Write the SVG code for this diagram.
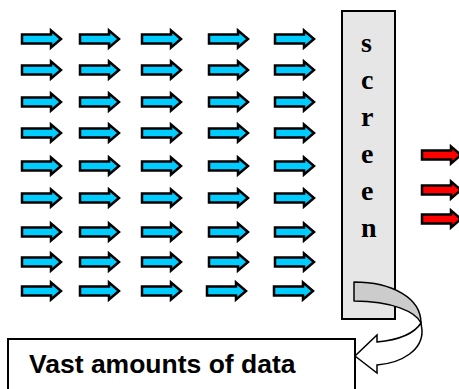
<svg xmlns="http://www.w3.org/2000/svg" xmlns:xlink="http://www.w3.org/1999/xlink" width="459" height="389" viewBox="0 0 459 389">
<style>
.blue{fill:#00CCFF;stroke:#000;stroke-width:2.5;stroke-linejoin:miter}
.red{fill:#FF0000;stroke:#000;stroke-width:2.5;stroke-linejoin:miter}
.scr{font-family:"Liberation Serif","Times New Roman",serif;font-weight:bold;font-size:28px;fill:#000}
.lbl{font-family:"Liberation Sans",Arial,sans-serif;font-weight:bold;font-size:26.5px;fill:#000}
</style>
<defs>
<polygon id="arr" points="0,-4.5 29,-4.5 29,-8.5 39,0 29,8.5 29,4.5 0,4.5"/>
</defs>
<rect width="459" height="389" fill="#fff"/>
<g id="data-arrows">
<g transform="translate(0,39)"><use xlink:href="#arr" class="blue" x="22"/><use xlink:href="#arr" class="blue" x="80"/><use xlink:href="#arr" class="blue" x="142"/><use xlink:href="#arr" class="blue" x="209"/><use xlink:href="#arr" class="blue" x="275"/></g>
<g transform="translate(0,70)"><use xlink:href="#arr" class="blue" x="22"/><use xlink:href="#arr" class="blue" x="80"/><use xlink:href="#arr" class="blue" x="142"/><use xlink:href="#arr" class="blue" x="209"/><use xlink:href="#arr" class="blue" x="275"/></g>
<g transform="translate(0,102)"><use xlink:href="#arr" class="blue" x="22"/><use xlink:href="#arr" class="blue" x="80"/><use xlink:href="#arr" class="blue" x="142"/><use xlink:href="#arr" class="blue" x="209"/><use xlink:href="#arr" class="blue" x="275"/></g>
<g transform="translate(0,133)"><use xlink:href="#arr" class="blue" x="22"/><use xlink:href="#arr" class="blue" x="80"/><use xlink:href="#arr" class="blue" x="142"/><use xlink:href="#arr" class="blue" x="209"/><use xlink:href="#arr" class="blue" x="275"/></g>
<g transform="translate(0,166)"><use xlink:href="#arr" class="blue" x="22"/><use xlink:href="#arr" class="blue" x="80"/><use xlink:href="#arr" class="blue" x="142"/><use xlink:href="#arr" class="blue" x="209"/><use xlink:href="#arr" class="blue" x="275"/></g>
<g transform="translate(0,198)"><use xlink:href="#arr" class="blue" x="22"/><use xlink:href="#arr" class="blue" x="80"/><use xlink:href="#arr" class="blue" x="142"/><use xlink:href="#arr" class="blue" x="209"/><use xlink:href="#arr" class="blue" x="275"/></g>
<g transform="translate(0,232)"><use xlink:href="#arr" class="blue" x="22"/><use xlink:href="#arr" class="blue" x="80"/><use xlink:href="#arr" class="blue" x="142"/><use xlink:href="#arr" class="blue" x="209"/><use xlink:href="#arr" class="blue" x="275"/></g>
<g transform="translate(0,262)"><use xlink:href="#arr" class="blue" x="22"/><use xlink:href="#arr" class="blue" x="80"/><use xlink:href="#arr" class="blue" x="142"/><use xlink:href="#arr" class="blue" x="209"/><use xlink:href="#arr" class="blue" x="275"/></g>
<g transform="translate(0,291)"><use xlink:href="#arr" class="blue" x="22"/><use xlink:href="#arr" class="blue" x="80"/><use xlink:href="#arr" class="blue" x="142"/><use xlink:href="#arr" class="blue" x="207"/><use xlink:href="#arr" class="blue" x="274"/></g>
</g>
<g id="screen">
<rect x="342" y="11" width="53" height="308" fill="#E6E6E6" stroke="#000" stroke-width="2"/>
<text class="scr" x="361" y="52">s</text>
<text class="scr" x="361" y="89">c</text>
<text class="scr" x="361" y="126">r</text>
<text class="scr" x="361" y="163">e</text>
<text class="scr" x="361" y="200">e</text>
<text class="scr" x="361" y="237">n</text>
</g>
<g id="output-arrows">
<use xlink:href="#arr" class="red" x="422" y="155"/>
<use xlink:href="#arr" class="red" x="422" y="190"/>
<use xlink:href="#arr" class="red" x="422" y="219"/>
</g>
<g id="data-box">
<rect x="8" y="339" width="347" height="60" fill="#fff" stroke="#000" stroke-width="2"/>
<text class="lbl" x="29" y="373">Vast amounts of data</text>
</g>
<g id="connectors">
<path d="M354,282 C392,282 421,298 421,323 C416,312 392,301 354,301 Z" fill="#CCCCCC" stroke="#000" stroke-width="1.5" stroke-linejoin="round"/>
<path d="M421,323 C414,334 398,340 377,342 L377,335 L355,356 L377,373 L377,365 C402,363 423,350 422,330 Z" fill="#fff" stroke="#000" stroke-width="1.5" stroke-linejoin="miter"/>
</g>
</svg>
